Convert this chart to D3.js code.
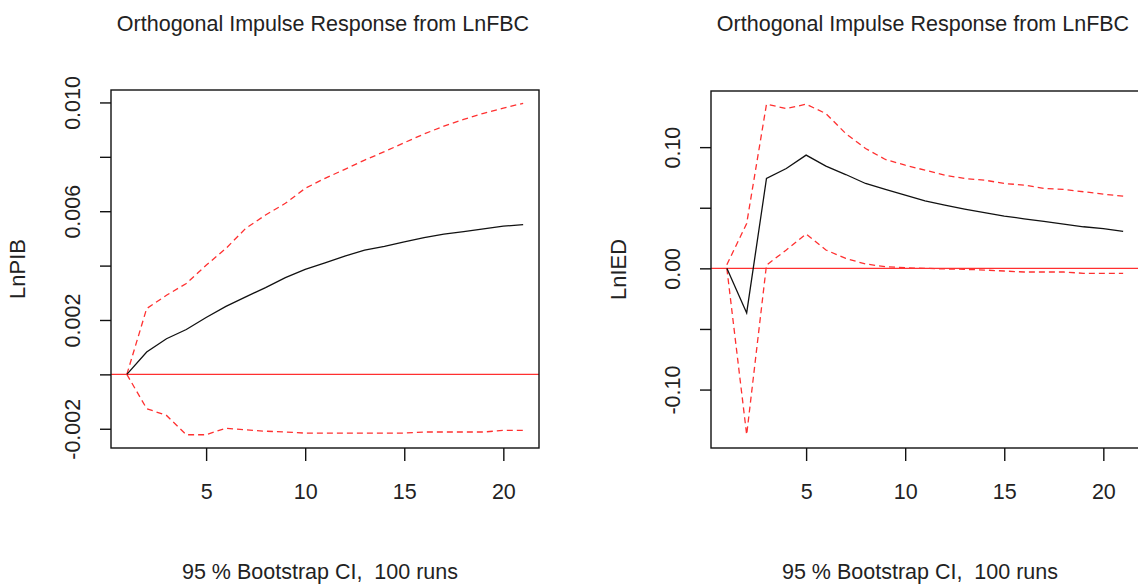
<!DOCTYPE html>
<html>
<head>
<meta charset="utf-8">
<script src="https://cdn.jsdelivr.net/npm/d3@7"></script>
<style>
  body { margin: 0; background: #fff; }
  svg { display: block; font-family: "Liberation Sans", Arial, sans-serif; }
</style>
</head>
<body>
<div id="mainContainer"></div>
<script>
// horizon 1..21
var steps = d3.range(1, 22);

// response of LnPIB
var pibIrf   = [0, 0.00082, 0.00131, 0.00165, 0.00209, 0.00250, 0.00285, 0.00319, 0.00356, 0.00386, 0.00410,
                0.00435, 0.00457, 0.00471, 0.00487, 0.00503, 0.00516, 0.00525, 0.00535, 0.00545, 0.00551];
var pibUpper = [0, 0.00242, 0.00291, 0.00334, 0.00401, 0.00463, 0.00537, 0.00586, 0.00629, 0.00684, 0.00721,
                0.00754, 0.00788, 0.00819, 0.00852, 0.00884, 0.00913, 0.00938, 0.00960, 0.00979, 0.00997];
var pibLower = [0, -0.00126, -0.00151, -0.00222, -0.00222, -0.00198, -0.00204, -0.00209, -0.00212, -0.00216, -0.00216,
                -0.00216, -0.00216, -0.00216, -0.00216, -0.00212, -0.00212, -0.00212, -0.00212, -0.00206, -0.00206];

// response of LnIED
var iedIrf   = [0, -0.0368, 0.0741, 0.0824, 0.0934, 0.0843, 0.0774, 0.0700, 0.0651, 0.0604, 0.0557,
                0.0522, 0.0489, 0.0459, 0.0431, 0.0409, 0.0387, 0.0365, 0.0343, 0.0327, 0.0305];
var iedUpper = [0.003, 0.037, 0.1354, 0.1318, 0.1354, 0.1277, 0.1112, 0.0989, 0.0898, 0.0851, 0.0810,
                0.0769, 0.0741, 0.0728, 0.0700, 0.0687, 0.0659, 0.0651, 0.0632, 0.0612, 0.0596];
var iedLower = [0, -0.1373, 0.0027, 0.0151, 0.0283, 0.0151, 0.0082, 0.0036, 0.0014, 0.0005, 0,
                -0.0005, -0.0008, -0.0014, -0.0022, -0.0030, -0.0030, -0.0030, -0.0041, -0.0041, -0.0041];

var xTicks = [5, 10, 15, 20];
var pibTicks = [-0.002, 0, 0.002, 0.004, 0.006, 0.008, 0.010];
var pibLabels = ["-0.002", "", "0.002", "", "0.006", "", "0.010"];
var iedTicks = [-0.10, -0.05, 0, 0.05, 0.10];
var iedLabels = ["-0.10", "", "0.00", "", "0.10"];

var titleText = "Orthogonal Impulse Response from LnFBC";
var footText = "95 % Bootstrap CI,  100 runs";

var svg = d3.select('#mainContainer').append('svg')
    .attr('width', 1138)
    .attr('height', 584);

var drawPanel = function(p){
    // R style: 4% padding on both axes
    var all = p.irf.concat(p.upper, p.lower);
    var ymin = d3.min(all), ymax = d3.max(all);
    var pad = (ymax - ymin) * 0.04;

    var xscale = d3.scaleLinear()
        .domain([1 - 0.8, 21 + 0.8])
        .range([p.left, p.right]);
    var yscale = d3.scaleLinear()
        .domain([ymin - pad, ymax + pad])
        .range([p.bottom, p.top]);

    var g = svg.append('g');

    // zero line
    g.append('line')
        .attr('x1', p.left).attr('x2', p.right)
        .attr('y1', yscale(0)).attr('y2', yscale(0))
        .attr('stroke', '#ff3030')
        .attr('stroke-width', 1.4);

    var line = d3.line()
        .x(function(d, i) { return xscale(steps[i]); })
        .y(function(d) { return yscale(d); });

    [p.upper, p.lower].forEach(function(band){
        g.append('path')
            .datum(band)
            .attr('d', line)
            .attr('fill', 'none')
            .attr('stroke', '#ff3030')
            .attr('stroke-width', 1.3)
            .attr('stroke-dasharray', '6,4');
    });

    g.append('path')
        .datum(p.irf)
        .attr('d', line)
        .attr('fill', 'none')
        .attr('stroke', '#111')
        .attr('stroke-width', 1.3);

    // box
    g.append('rect')
        .attr('x', p.left).attr('y', p.top)
        .attr('width', p.right - p.left)
        .attr('height', p.bottom - p.top)
        .attr('fill', 'none')
        .attr('stroke', '#111')
        .attr('stroke-width', 1.4);

    var xAxis = g.append('g')
        .attr('transform', 'translate(0,' + p.bottom + ')')
        .call(d3.axisBottom(xscale).tickValues(xTicks).tickSize(13).tickSizeOuter(0));
    xAxis.select('.domain').remove();
    xAxis.selectAll('line').attr('stroke', '#111').attr('stroke-width', 1.4);
    xAxis.selectAll('text')
        .attr('y', 51).attr('dy', null)
        .attr('fill', '#222')
        .attr('font-size', '21.5px');

    var yAxis = g.append('g')
        .attr('transform', 'translate(' + p.left + ',0)')
        .call(d3.axisLeft(yscale).tickValues(p.ticks).tickSize(11).tickSizeOuter(0)
            .tickFormat(function(d, i) { return p.labels[i]; }));
    yAxis.select('.domain').remove();
    yAxis.selectAll('line').attr('stroke', '#111').attr('stroke-width', 1.4);
    yAxis.selectAll('text')
        .attr('transform', 'rotate(-90)')
        .attr('x', 0).attr('y', -31).attr('dy', null)
        .attr('text-anchor', 'middle')
        .attr('fill', '#222')
        .attr('font-size', '21.5px');

    var cx = (p.left + p.right) / 2;

    svg.append('text')
        .attr('x', cx - 2).attr('y', 31)
        .attr('text-anchor', 'middle')
        .attr('fill', '#222')
        .attr('font-size', '21.5px')
        .text(titleText);

    svg.append('text')
        .attr('x', cx - 5).attr('y', 579)
        .attr('text-anchor', 'middle')
        .attr('fill', '#222')
        .attr('font-size', '21.5px')
        .style('white-space', 'pre')
        .text(footText);

    svg.append('text')
        .attr('transform', 'translate(' + p.ylabX + ',' + ((p.top + p.bottom) / 2) + ') rotate(-90)')
        .attr('text-anchor', 'middle')
        .attr('fill', '#222')
        .attr('font-size', '22px')
        .text(p.ylab);
};

drawPanel({ irf: pibIrf, upper: pibUpper, lower: pibLower, ticks: pibTicks, labels: pibLabels,
            ylab: 'LnPIB', ylabX: 25, left: 111, right: 539, top: 90, bottom: 448 });
drawPanel({ irf: iedIrf, upper: iedUpper, lower: iedLower, ticks: iedTicks, labels: iedLabels,
            ylab: 'LnIED', ylabX: 626, left: 711, right: 1139, top: 91, bottom: 448 });
</script>
</body>
</html>
